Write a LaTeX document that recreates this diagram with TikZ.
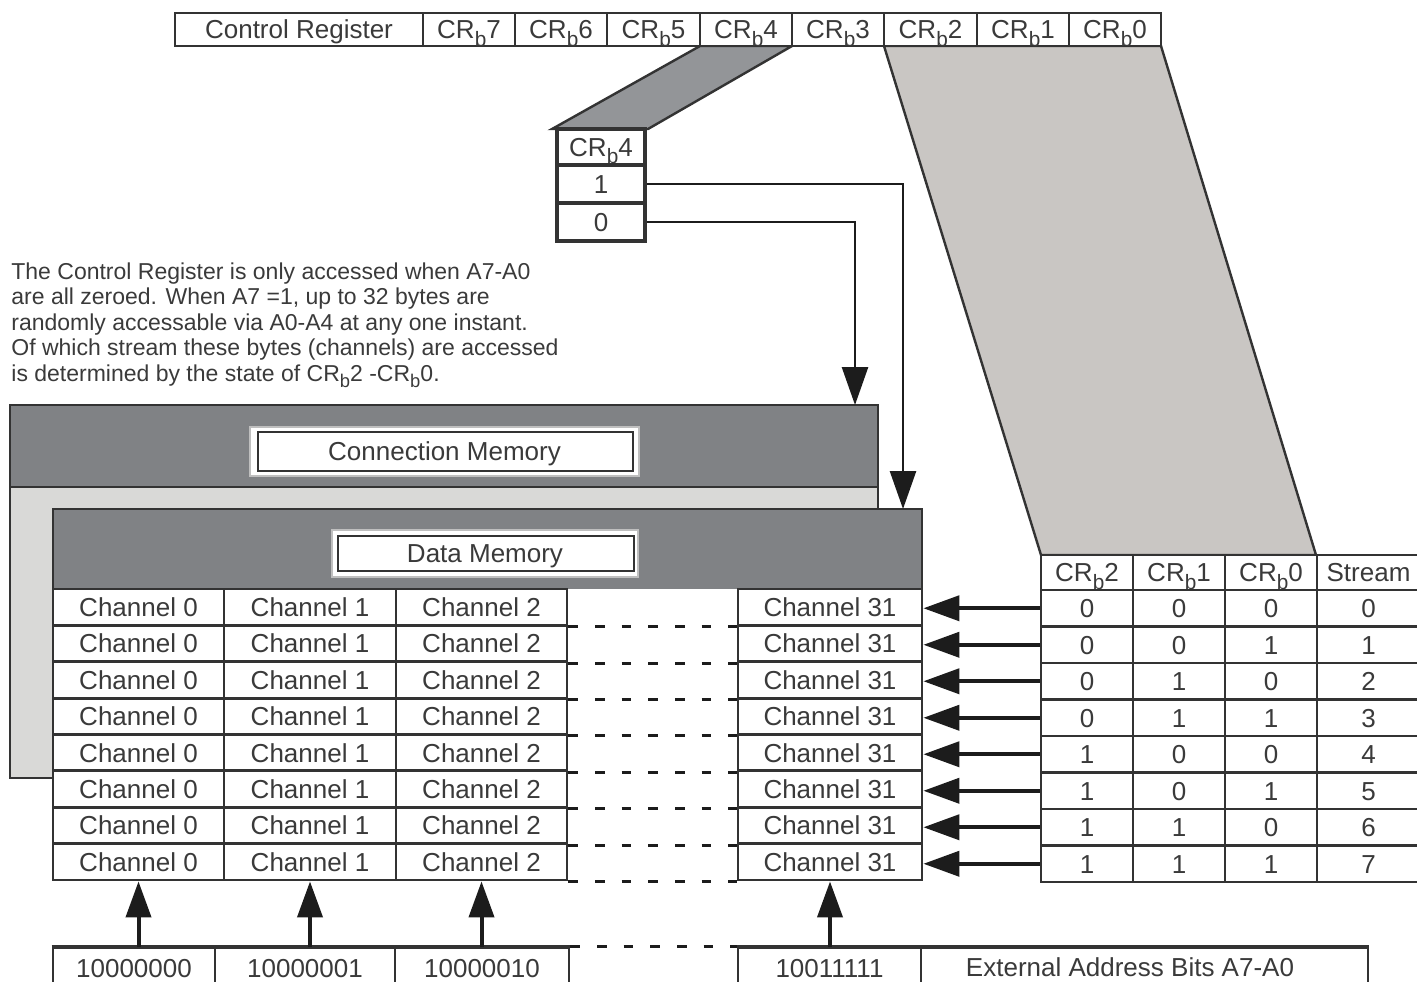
\documentclass[tikz,border=0pt]{standalone}
\usepackage{fontspec}
\setmainfont{Liberation Sans}
\usepackage{graphicx}
\usetikzlibrary{arrows.meta,fit}
\definecolor{linec}{HTML}{333333}
\definecolor{textc}{HTML}{3A3A3A}
\definecolor{arrc}{HTML}{1C1C1C}
\definecolor{hdrgray}{HTML}{808285}
\definecolor{bodygray}{HTML}{D9D9D7}
\definecolor{pardark}{HTML}{939598}
\definecolor{parlight}{HTML}{C9C6C3}
\newcommand{\sbb}{\raisebox{-0.28em}{\scalebox{0.8}{b}}}
\newcommand{\cellat}[7][cell]{\node[#1, fit={(#3,#4) (#5,#6)}, label={[txt]center:{#7}}] (#2) {};}
\begin{document}
\begin{tikzpicture}[x=0.5pt,y=-0.5pt,
  cell/.style={draw=linec, fill=white, line width=1.4pt, inner sep=0pt},
  bcell/.style={cell, line width=2pt},
  txt/.style={inner sep=0pt, font=\fontsize{13}{15}\selectfont, text=textc, text height=9.3pt, text depth=0pt},
  desc/.style={inner sep=0pt, anchor=base west, font=\fontsize{11.5}{13}\selectfont, text=textc},
  border/.style={draw=linec, line width=1.4pt},
  conn/.style={draw=arrc, line width=1.3pt, -{Triangle[length=19pt,width=13pt]}},
  arr/.style={draw=arrc, line width=2pt, -{Triangle[length=18pt,width=12.5pt]}},
  dashline/.style={draw=arrc, line width=1.5pt, dash pattern=on 4.75pt off 8.58pt}
]
\useasboundingbox (0,0) rectangle (1417,981);
\clip (0,0) rectangle (1417,981);

% parallelograms
\filldraw[fill=parlight, draw=linec, line width=1.2pt] (884,46) -- (1161,46) -- (1316,555) -- (1041,555) -- cycle;
\filldraw[fill=pardark, draw=linec, line width=1.2pt] (700,46) -- (792,46) -- (648,129) -- (552,129) -- cycle;

% control register bar
\cellat{crl}{175}{13}{423}{46}{Control Register}
\foreach \a/\b/\t in {423/515/7, 515/607/6, 607/700/5, 700/792/4, 792/884/3, 884/977/2, 977/1069/1, 1069/1161/0}
  {\cellat{cr\t}{\a}{13}{\b}{46}{CR\sbb\t}}

% CRb4 box
\cellat[bcell]{b4h}{557}{129}{645}{165}{CR\sbb4}
\cellat[bcell]{b4one}{557}{165}{645}{203}{1}
\cellat[bcell]{b4zero}{557}{203}{645}{241}{0}

% connection memory
\fill[bodygray] (10,487) rectangle (878,778);
\fill[hdrgray] (10,405) rectangle (878,487);
\draw[border] (10,405) rectangle (878,778);
\draw[border] (10,487) -- (878,487);
\node[fit={(250,427) (639,476)}, fill=white, draw=gray!50, line width=0.6pt, inner sep=0pt] (cmlab) {};
\draw[linec, line width=0.7pt] (258,432) rectangle (633,471);
\node[txt] at (cmlab.center) {Connection Memory};

% data memory
\fill[white] (53,509) rectangle (922,880);
\fill[hdrgray] (53,509) rectangle (922,589);
\draw[border] (53,589) -- (53,509) -- (922,509) -- (922,589);
\node[fit={(332,530) (638,577)}, fill=white, draw=gray!50, line width=0.6pt, inner sep=0pt] (dmlab) {};
\draw[linec, line width=0.7pt] (338,536) rectangle (634,571);
\node[txt] at (dmlab.center) {Data Memory};

\foreach \r in {0,...,7} {
  \pgfmathsetmacro\ya{589+\r*36.375}
  \pgfmathsetmacro\yb{\ya+36.375}
  \foreach \a/\b/\c in {53/224/0, 224/396/1, 396/567/2, 738/922/31}
    {\cellat{ch\c-\r}{\a}{\ya}{\b}{\yb}{Channel \c}}
  \draw[dashline] (ch2-\r.south east) -- (ch31-\r.south west);
}

% stream table
\cellat{hb2}{1041}{555}{1133}{590}{CR\sbb2}
\cellat{hb1}{1133}{555}{1225}{590}{CR\sbb1}
\cellat{hb0}{1225}{555}{1317}{590}{CR\sbb0}
\cellat{hst}{1317}{555}{1420}{590}{Stream}
\foreach \s/\p/\q/\w in {0/0/0/0, 1/0/0/1, 2/0/1/0, 3/0/1/1, 4/1/0/0, 5/1/0/1, 6/1/1/0, 7/1/1/1} {
  \pgfmathsetmacro\ya{590+\s*36.5}
  \pgfmathsetmacro\yb{\ya+36.5}
  \cellat{t2-\s}{1041}{\ya}{1133}{\yb}{\p}
  \cellat{t1-\s}{1133}{\ya}{1225}{\yb}{\q}
  \cellat{t0-\s}{1225}{\ya}{1317}{\yb}{\w}
  \cellat{ts-\s}{1317}{\ya}{1420}{\yb}{\s}
  \draw[arr] (t2-\s.west) -- (t2-\s.west -| ch31-\s.east);
}

% connectors from CRb4
\coordinate (dmtop) at (903,509);
\coordinate (cmtop) at (855,405);
\draw[conn] (b4one.east) -| (dmtop);
\draw[conn] (b4zero.east) -| (cmtop);

% bottom address boxes
\cellat{a0}{53}{948}{215}{988}{10000000}
\cellat{a1}{215}{948}{395}{988}{10000001}
\cellat{a2}{395}{948}{569}{988}{10000010}
\cellat{a31}{738}{948}{921}{988}{10011111}
\node[cell, fit={(921,948) (1368,988)}] (aext) {};
\node[txt] at (1130,967) {External Address Bits A7-A0};
\draw[linec, line width=2pt] (a0.north west) -- (a2.north east);
\draw[linec, line width=2pt] (a31.north west) -- (aext.north east);
\draw[dashline] (a2.north east) -- (a31.north west);
\draw[arr] (a0.north -| ch0-7.south) -- (ch0-7.south);
\draw[arr] (a1.north -| ch1-7.south) -- (ch1-7.south);
\draw[arr] (a2.north -| ch2-7.south) -- (ch2-7.south);
\draw[arr] (a31.north -| ch31-7.south) -- (ch31-7.south);

% description
\node[desc] (d1) at (11,279) {The Control Register is only accessed when A7-A0};
\node[desc] (d2) at (11,304.5) {are all zeroed. When A7 =1, up to 32 bytes are};
\node[desc] (d3) at (11,330) {randomly accessable via A0-A4 at any one instant.};
\node[desc] (d4) at (11,355.5) {Of which stream these bytes (channels) are accessed};
\node[desc] (d5) at (11,381) {is determined by the state of CR\sbb2 -CR\sbb0.};
\end{tikzpicture}
\end{document}
